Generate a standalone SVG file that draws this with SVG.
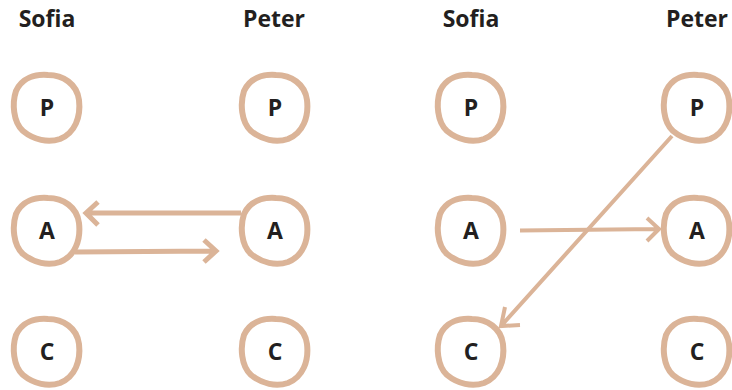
<svg xmlns="http://www.w3.org/2000/svg" xmlns:xlink="http://www.w3.org/1999/xlink" width="732" height="390" viewBox="0 0 732 390">
<style>
.ring{fill:none;stroke:#dbb498;stroke-width:6;stroke-linejoin:round}
.lbl{font-family:"Open Sans","Liberation Sans",sans-serif;font-weight:bold;font-size:23px;fill:#231f20;text-anchor:middle}
.ltr{font-family:"Open Sans","Liberation Sans",sans-serif;font-weight:bold;font-size:23px;fill:#231f20;text-anchor:middle}
.arr{fill:none;stroke:#dbb498;stroke-width:5;stroke-linecap:butt;stroke-linejoin:miter}
.arrt{fill:none;stroke:#dbb498;stroke-width:4}
</style>
<defs>
<path id="blob" d="M -31,-17 C -25,-30 -12,-34 1,-33 C 16,-33 30,-24 32,-8 C 34,9 28,25 13,31 C 1,35 -13,32 -24,23 C -34,14 -35,-5 -31,-17 Z"/>
</defs>
<rect width="732" height="390" fill="#ffffff"/>
<text class="lbl" x="47" y="27">Sofia</text>
<text class="lbl" x="274" y="27">Peter</text>
<text class="lbl" x="471" y="27">Sofia</text>
<text class="lbl" x="697" y="27">Peter</text>
<g id="left-sofia-p"><use xlink:href="#blob" class="ring" transform="translate(47,108)"/><text class="ltr" x="47" y="116">P</text></g>
<g id="left-sofia-a"><use xlink:href="#blob" class="ring" transform="translate(47,231)"/><text class="ltr" x="47" y="239">A</text></g>
<g id="left-sofia-c"><use xlink:href="#blob" class="ring" transform="translate(47,352)"/><text class="ltr" x="47" y="360">C</text></g>
<g id="left-peter-p"><use xlink:href="#blob" class="ring" transform="translate(275,108)"/><text class="ltr" x="275" y="116">P</text></g>
<g id="left-peter-a"><use xlink:href="#blob" class="ring" transform="translate(275,231)"/><text class="ltr" x="275" y="239">A</text></g>
<g id="left-peter-c"><use xlink:href="#blob" class="ring" transform="translate(275,352)"/><text class="ltr" x="275" y="360">C</text></g>
<g id="right-sofia-p"><use xlink:href="#blob" class="ring" transform="translate(471,108)"/><text class="ltr" x="471" y="116">P</text></g>
<g id="right-sofia-a"><use xlink:href="#blob" class="ring" transform="translate(471,231)"/><text class="ltr" x="471" y="239">A</text></g>
<g id="right-sofia-c"><use xlink:href="#blob" class="ring" transform="translate(471,352)"/><text class="ltr" x="471" y="360">C</text></g>
<g id="right-peter-p"><use xlink:href="#blob" class="ring" transform="translate(697,108)"/><text class="ltr" x="697" y="116">P</text></g>
<g id="right-peter-a"><use xlink:href="#blob" class="ring" transform="translate(697,231)"/><text class="ltr" x="697" y="239">A</text></g>
<g id="right-peter-c"><use xlink:href="#blob" class="ring" transform="translate(697,352)"/><text class="ltr" x="697" y="360">C</text></g>
<g id="connectors">
<path class="arr" d="M 241,213 L 87,213 M 98,202 L 86,213 L 98,225"/>
<path class="arr" d="M 75,252 L 216,251 M 204,240 L 216,251 L 204,262"/>
<path class="arrt" d="M 520,230.5 L 658,229 M 647,218 L 659,229 L 647,241"/>
<path class="arrt" d="M 672,136 L 502,325 M 505,307 L 501,326 L 520,325"/>
</g>
</svg>
